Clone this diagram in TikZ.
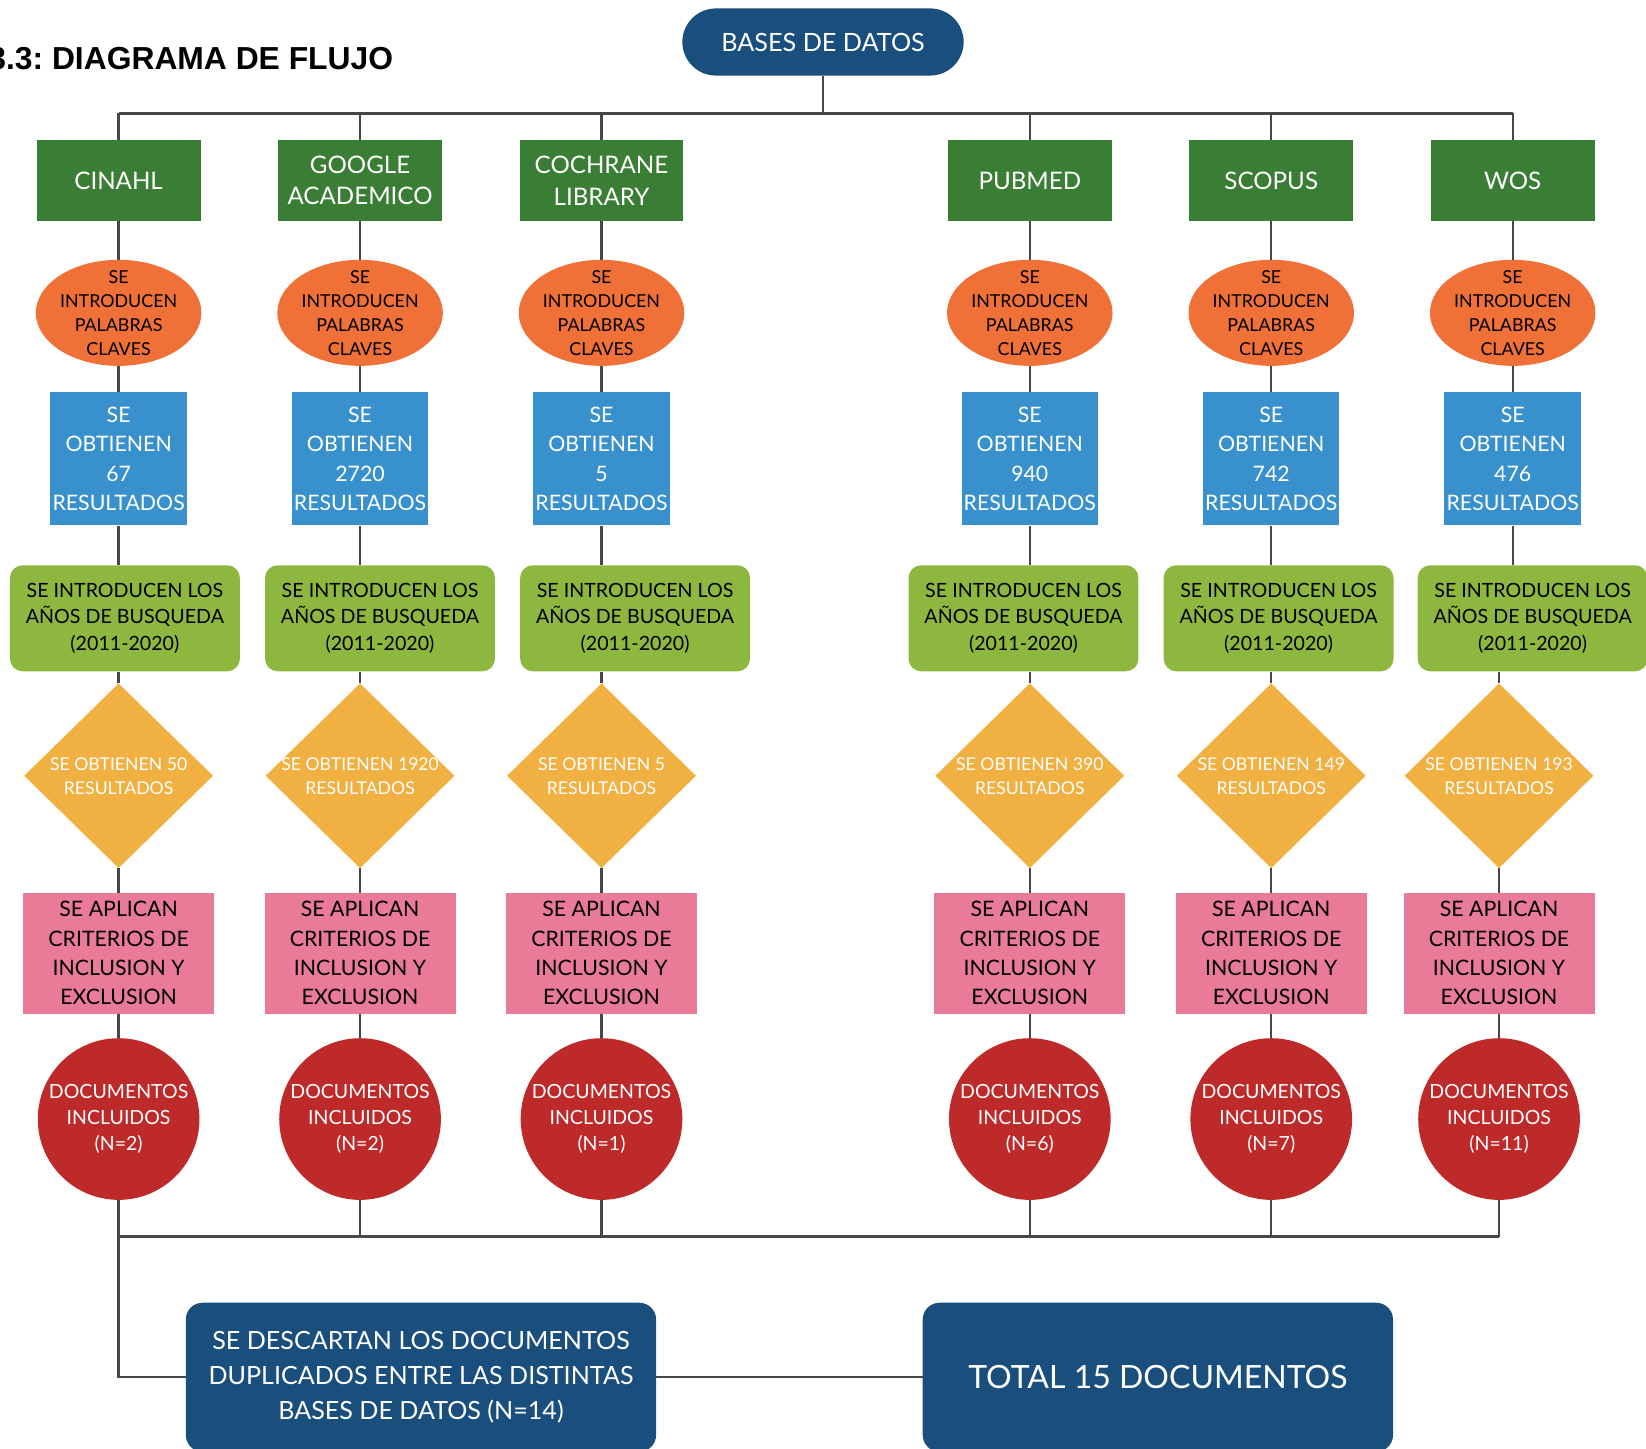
\documentclass[tikz,border=0pt]{standalone}
\usepackage{fontspec}
\setmainfont{Lato}
\newfontfamily\arialfont{Liberation Sans}
\usetikzlibrary{shapes.geometric}

\definecolor{azuloscuro}{HTML}{1A4E7C}
\definecolor{verdeoscuro}{HTML}{3A7D34}
\definecolor{naranja}{HTML}{EF7138}
\definecolor{azul}{HTML}{3891CD}
\definecolor{verdeclaro}{HTML}{8DB73E}
\definecolor{amarillo}{HTML}{F0B042}
\definecolor{rosa}{HTML}{E97B98}
\definecolor{rojo}{HTML}{BE292A}

\tikzset{
  linea/.style={draw=black!72, line width=2.2pt},
  caja/.style={inner sep=0pt, align=center},
  bd/.style={caja, fill=verdeoscuro, text=white, minimum width=156, minimum height=77,
    font=\fontsize{23}{30}\selectfont},
  clave/.style={caja, ellipse, fill=naranja, minimum width=156, minimum height=100,
    inner ysep=-5pt, font=\fontsize{17}{23}\selectfont},
  obt/.style={caja, fill=azul, text=white, minimum width=130, minimum height=127,
    font=\fontsize{20.3}{28}\selectfont},
  anios/.style={caja, fill=verdeclaro, rounded corners=12, minimum width=219, minimum height=101,
    font=\fontsize{18.7}{25}\selectfont},
  filtro/.style={caja, diamond, fill=amarillo, text=white, minimum width=180, minimum height=176,
    inner sep=-4pt, font=\fontsize{16.8}{23}\selectfont},
  criterio/.style={caja, fill=rosa, minimum width=182, minimum height=115,
    font=\fontsize{20.3}{28}\selectfont},
  incl/.style={caja, circle, fill=rojo, text=white, minimum size=154,
    font=\fontsize{18.6}{25}\selectfont},
  final/.style={caja, fill=azuloscuro, text=white, rounded corners=16, minimum width=448, minimum height=142}
}

\begin{document}
\begin{tikzpicture}[x=1pt,y=1pt]
\useasboundingbox (0,0) rectangle (1568,-1380);

% titulo y raiz
\node[anchor=base east, font=\arialfont\bfseries\fontsize{30.3}{34}\selectfont] (titulo) at (378,-66) {3.3:\ DIAGRAMA DE FLUJO};
\node[caja, fill=azuloscuro, text=white, rounded corners=32, minimum width=268, minimum height=64,
  font=\fontsize{24}{28}\selectfont] (base) at (784,-40) {BASES DE DATOS};
\coordinate (arriba) at (0,-108);
\coordinate (abajo) at (0,-1178);

% una columna por base de datos
\foreach \c/\x/\xa/\xb/\db/\nr/\nd/\ni in {
  1/113/119/113/CINAHL/67/50/2,
  2/343/362/343/{GOOGLE\\ACADEMICO}/2720/1920/2,
  3/573/605/573/{COCHRANE\\LIBRARY}/5/5/1,
  4/981/975/981/PUBMED/940/390/6,
  5/1211/1218/1211/SCOPUS/742/149/7,
  6/1441/1460/1428/WOS/476/193/11}
{
  \node[bd] (bd\c) at (\x,-172) {\db};
  \node[clave] (clave\c) at (\x,-298) {SE\\INTRODUCEN\\PALABRAS\\CLAVES};
  \node[obt] (obt\c) at (\x,-437) {SE\\OBTIENEN\\\nr\\RESULTADOS};
  \node[anios] (anios\c) at (\xa,-589) {SE INTRODUCEN LOS\\AÑOS DE BUSQUEDA\\(2011-2020)};
  \node[filtro] (filtro\c) at (\xb,-739) {SE OBTIENEN \nd\\RESULTADOS};
  \node[criterio] (crit\c) at (\xb,-908) {SE APLICAN\\CRITERIOS DE\\INCLUSION Y\\EXCLUSION};
  \node[incl] (incl\c) at (\xb,-1066) {DOCUMENTOS\\INCLUIDOS\\(N=\ni)};

  \draw[linea] (bd\c.north) -- (bd\c.north |- arriba);
  \draw[linea] (bd\c) -- (clave\c);
  \draw[linea] (clave\c) -- (obt\c);
  \draw[linea] (obt\c.south) -- (obt\c.south |- anios\c.north);
  \draw[linea] (filtro\c.north |- anios\c.south) -- (filtro\c.north);
  \draw[linea] (filtro\c) -- (crit\c);
  \draw[linea] (crit\c) -- (incl\c);
  \draw[linea] (incl\c.south) -- (incl\c.south |- abajo);
}

\draw[linea] (base.south) -- (base.south |- arriba);
\draw[linea] (bd1.north |- arriba) -- (bd6.north |- arriba);
\draw[linea] (incl1.south |- abajo) -- (incl6.south |- abajo);

% resultado final
\node[final, font=\fontsize{23.9}{33}\selectfont] (descarte) at (401,-1312)
  {SE DESCARTAN LOS DOCUMENTOS\\DUPLICADOS ENTRE LAS DISTINTAS\\BASES DE DATOS (N=14)};
\node[final, font=\fontsize{30.5}{36}\selectfont] (total) at (1103,-1312) {TOTAL 15 DOCUMENTOS};
\draw[linea] (incl1.south |- abajo) |- (descarte.west);
\draw[linea] (descarte) -- (total);
\end{tikzpicture}
\end{document}
